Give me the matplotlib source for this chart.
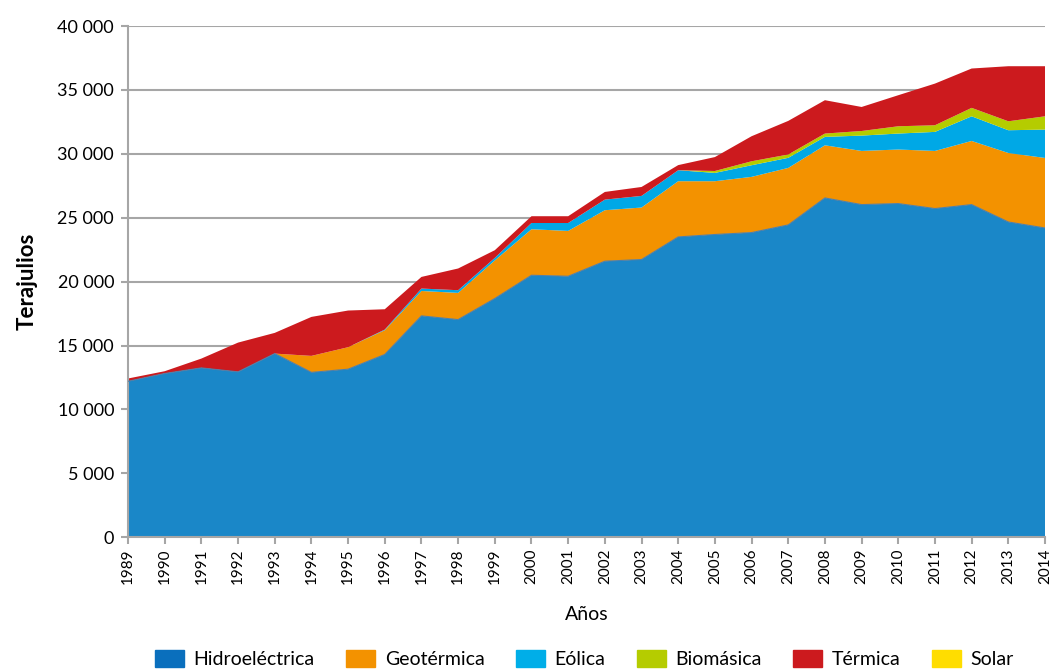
import matplotlib.pyplot as plt
from matplotlib.patches import Patch
from matplotlib.ticker import FuncFormatter

plt.rcParams['font.family'] = ['Lato', 'DejaVu Sans']

# Data (Terajulios)
years = list(range(1989, 2015))
hidro = [12200, 12810, 13250, 12940, 14370, 12900, 13150, 14300, 17320, 17030,
         18680, 20500, 20420, 21600, 21730, 23500, 23690, 23840, 24440, 26550,
         26030, 26110, 25720, 26030, 24670, 24200]
geo = [0, 0, 0, 0, 0, 1290, 1720, 1900, 1950, 2090,
       2980, 3600, 3550, 3990, 4070, 4360, 4170, 4360, 4460, 4120,
       4200, 4230, 4510, 4980, 5400, 5480]
eolica = [0, 0, 0, 0, 0, 0, 0, 50, 190, 210,
          200, 490, 620, 830, 910, 860, 650, 910, 790, 660,
          1200, 1250, 1490, 1930, 1780, 2220]
biomasa = [0, 0, 0, 0, 0, 0, 0, 0, 0, 0,
           0, 0, 0, 0, 0, 0, 150, 310, 260, 260,
           360, 570, 520, 660, 700, 1040]
termica = [220, 180, 730, 2290, 1620, 3050, 2870, 1590, 910, 1700,
           600, 530, 530, 600, 700, 400, 1090, 1960, 2630, 2610,
           1880, 2430, 3260, 3080, 4310, 3920]
solar = [0] * 26

labels = ["Hidroeléctrica", "Geotérmica", "Eólica", "Biomásica", "Térmica", "Solar"]
area_colors = ["#1a87c8", "#f39200", "#00a8e6", "#b5cc00", "#cc1a1e", "#ffdd00"]
legend_colors = ["#0a6fbd", "#f39200", "#00aee8", "#b5cc00", "#cc1a1e", "#ffdd00"]

fig = plt.figure(figsize=(10.51, 6.69), dpi=100)
ax = fig.add_axes([0.1218, 0.197, 0.8725, 0.764])

ax.yaxis.grid(True, color="#a6a6a6", linewidth=1.5, zorder=0)
ax.set_axisbelow(True)
ax.stackplot(years, hidro, geo, eolica, biomasa, termica, solar,
             colors=area_colors, zorder=2)
ax.plot(years, hidro, color="#4f7fa8", linewidth=0.8, zorder=3)

ax.set_xlim(1989, 2014)
ax.set_ylim(0, 40000)
ax.set_yticks(range(0, 40001, 5000))
ax.yaxis.set_major_formatter(FuncFormatter(lambda v, p: f"{int(v):,}".replace(",", " ")))
ax.set_xticks(years)
ax.set_xticklabels([str(y) for y in years], rotation=90, fontsize=11)
ax.tick_params(axis="y", labelsize=13, length=5, color="#a6a6a6", width=1.5, pad=5)
ax.tick_params(axis="x", length=5, color="#a6a6a6", width=1.5, pad=3)

for s in ["top", "right"]:
    ax.spines[s].set_visible(False)
for s in ["left", "bottom"]:
    ax.spines[s].set_color("#a6a6a6")
    ax.spines[s].set_linewidth(1.5)

ax.set_xlabel("Años", fontsize=14, labelpad=16)
ax.set_ylabel("Terajulios", fontsize=16, fontweight="bold", labelpad=14)

handles = [Patch(facecolor=c, edgecolor=c, label=l) for c, l in zip(legend_colors, labels)]
fig.legend(handles=handles, loc="lower center", bbox_to_anchor=(0.556, -0.025), ncol=6,
           frameon=False, fontsize=14, handlelength=1.5, handleheight=1.0,
           columnspacing=1.6, handletextpad=0.5)

fig.savefig("out.png", dpi=100)
